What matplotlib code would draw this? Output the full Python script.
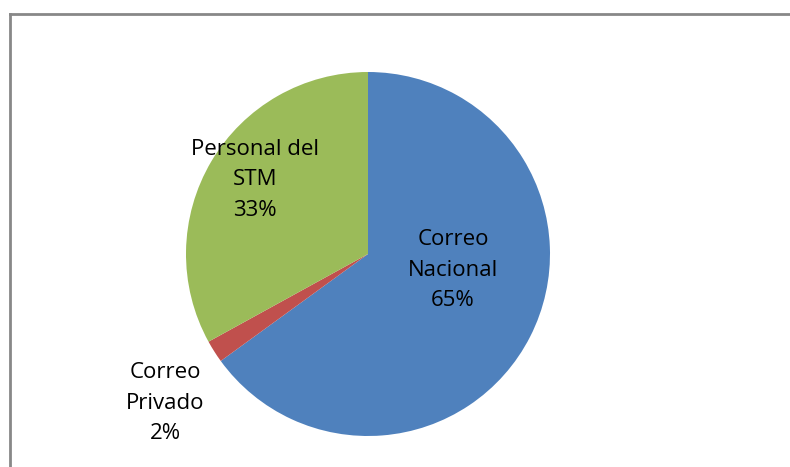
import matplotlib.pyplot as plt
from matplotlib.lines import Line2D

categorias = ['Correo\nNacional', 'Correo\nPrivado', 'Personal del\nSTM']
valores = [65, 2, 33]
colores = ['#4F81BD', '#C0504D', '#9BBB59']
# label positions in data units (pie radius = 1)
pos_labels = [(0.467, -0.088), (-1.115, -0.819), (-0.621, 0.407)]

fig = plt.figure(figsize=(7.9, 4.67), dpi=100)
W, H = 790, 467
cx, cy, r = 368, 467 - 254, 182
ax = fig.add_axes([(cx - r) / W, (cy - r) / H, 2 * r / W, 2 * r / H])

wedges, _ = ax.pie(valores, colors=colores, startangle=90, counterclock=False,
                   radius=1, wedgeprops=dict(linewidth=0))
ax.set_xlim(-1, 1)
ax.set_ylim(-1, 1)
ax.set_aspect('equal')
ax.axis('off')

for cat, v, (x, y) in zip(categorias, valores, pos_labels):
    ax.text(x, y, '%s\n%d%%' % (cat, v), ha='center', va='center',
            fontsize=16, family=['Open Sans', 'DejaVu Sans'], color='black',
            linespacing=1.6, clip_on=False)

# chart area border (only left and top visible)
bx, by = 9.5 / W, (467 - 14) / H
fig.add_artist(Line2D([bx, bx], [0, by], color='#888888', lw=2, transform=fig.transFigure))
fig.add_artist(Line2D([bx, 1], [by, by], color='#888888', lw=2, transform=fig.transFigure))

fig.savefig('out.png', dpi=100)
